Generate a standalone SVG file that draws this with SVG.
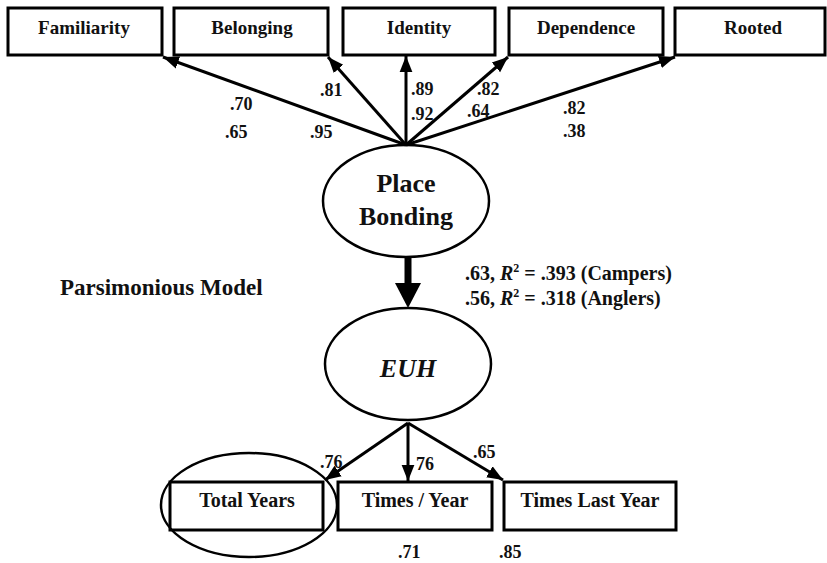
<svg xmlns="http://www.w3.org/2000/svg" width="827" height="563" viewBox="0 0 827 563">
<defs>
<style>
.box{fill:#fff;stroke:#000;stroke-width:3}
.ell{fill:#fff;stroke:#000;stroke-width:2.5}
text{font-family:"Liberation Serif","Times New Roman",serif;font-weight:bold;fill:#111}
.t{font-size:19px}
.b{font-size:20px}
.l{font-size:18px}
.big{font-size:26px}
.c{stroke:#000;stroke-width:3;fill:none}
</style>
<marker id="ah" viewBox="0 0 10 10" refX="10" refY="5" markerWidth="5.3" markerHeight="5.3" orient="auto" markerUnits="strokeWidth">
<path d="M0,1 L10,5 L0,9 z" fill="#000"/>
</marker>
</defs>
<rect width="827" height="563" fill="#fff"/>

<g id="n-familiarity"><rect class="box" x="8" y="8" width="154" height="47"/><text class="t" x="84" y="34" text-anchor="middle">Familiarity</text></g>
<g id="n-belonging"><rect class="box" x="174" y="8" width="154" height="47"/><text class="t" x="252" y="34" text-anchor="middle">Belonging</text></g>
<g id="n-identity"><rect class="box" x="343" y="8" width="152" height="47"/><text class="t" x="419" y="34" text-anchor="middle">Identity</text></g>
<g id="n-dependence"><rect class="box" x="509" y="8" width="154" height="47"/><text class="t" x="586" y="34" text-anchor="middle">Dependence</text></g>
<g id="n-rooted"><rect class="box" x="675" y="8" width="150" height="47"/><text class="t" x="753" y="34" text-anchor="middle">Rooted</text></g>

<g id="n-placebonding"><ellipse class="ell" cx="406" cy="201" rx="83" ry="56"/><text class="big" x="406" y="192" text-anchor="middle">Place</text><text class="big" x="406" y="225" text-anchor="middle">Bonding</text></g>

<g id="n-euh"><ellipse class="ell" cx="408" cy="364" rx="83" ry="56"/><text class="big" x="408" y="377" text-anchor="middle" font-style="italic">EUH</text></g>

<g id="n-totalyears"><rect class="box" x="170" y="482" width="153" height="48"/><text class="b" x="247" y="507" text-anchor="middle">Total Years</text></g>
<g id="n-timesyear"><rect class="box" x="338" y="482" width="154" height="48"/><text class="b" x="415" y="507" text-anchor="middle">Times / Year</text></g>
<g id="n-timeslast"><rect class="box" x="504" y="482" width="172" height="48"/><text class="b" x="590" y="507" text-anchor="middle">Times Last Year</text></g>
<g id="n-highlight"><ellipse cx="249" cy="505" rx="88" ry="52" fill="none" stroke="#000" stroke-width="2.5"/></g>

<g id="connectors">
<line class="c" x1="406" y1="145" x2="163" y2="57" marker-end="url(#ah)"/>
<line class="c" x1="406" y1="145" x2="328" y2="57" marker-end="url(#ah)"/>
<line class="c" x1="406" y1="145" x2="406" y2="56" marker-end="url(#ah)"/>
<line class="c" x1="406" y1="145" x2="508" y2="57" marker-end="url(#ah)"/>
<line class="c" x1="406" y1="145" x2="675" y2="57" marker-end="url(#ah)"/>
<line x1="408" y1="258" x2="408" y2="284" stroke="#000" stroke-width="7"/>
<path d="M395,283 L421,283 L408,308 z" fill="#000"/>
<line class="c" x1="408" y1="423" x2="325" y2="480" marker-end="url(#ah)"/>
<line class="c" x1="408" y1="423" x2="408" y2="481" marker-end="url(#ah)"/>
<line class="c" x1="408" y1="423" x2="503" y2="480" marker-end="url(#ah)"/>
</g>

<g id="labels">
<text class="l" x="230" y="110">.70</text>
<text class="l" x="225" y="138">.65</text>
<text class="l" x="320" y="96">.81</text>
<text class="l" x="310" y="138">.95</text>
<text class="l" x="411" y="95">.89</text>
<text class="l" x="411" y="120">.92</text>
<text class="l" x="477" y="95">.82</text>
<text class="l" x="467" y="117">.64</text>
<text class="l" x="563" y="114">.82</text>
<text class="l" x="563" y="137">.38</text>
<text x="465" y="280" font-size="20">.63, <tspan font-style="italic">R</tspan><tspan font-size="12" dy="-8">2</tspan><tspan dy="8"> = .393 (Campers)</tspan></text>
<text x="465" y="305" font-size="20">.56, <tspan font-style="italic">R</tspan><tspan font-size="12" dy="-8">2</tspan><tspan dy="8"> = .318 (Anglers)</tspan></text>
<text x="60" y="295" font-size="23">Parsimonious Model</text>
<text class="l" x="320" y="468">.76</text>
<text class="l" x="416" y="470">76</text>
<text class="l" x="473" y="458">.65</text>
<text class="l" x="398" y="558">.71</text>
<text class="l" x="499" y="558">.85</text>
</g>
</svg>
